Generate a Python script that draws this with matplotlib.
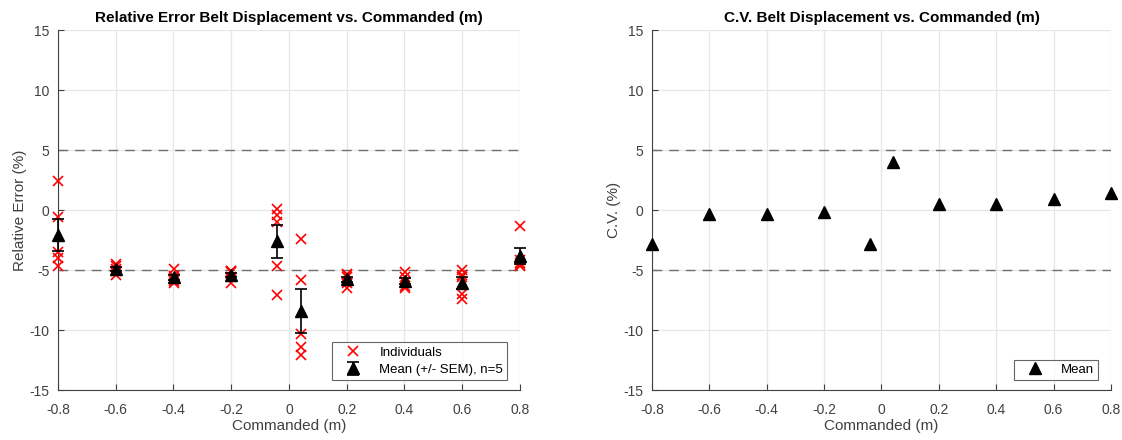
import numpy as np
import matplotlib.pyplot as plt

plt.rcParams['font.family'] = ['Liberation Sans', 'DejaVu Sans']
plt.rcParams['axes.unicode_minus'] = False

# commanded positions (m)
commanded = [-0.8, -0.6, -0.4, -0.2, -0.04, 0.04, 0.2, 0.4, 0.6, 0.8]

# relative error of each individual trial (%), 5 per position
individuals = [
    [2.4, -0.6, -3.5, -4.0, -4.7],
    [-4.5, -4.7, -4.9, -5.1, -5.4],
    [-4.9, -5.5, -5.7, -5.9, -6.1],
    [-5.1, -5.1, -5.2, -5.6, -6.1],
    [0.1, -0.4, -1.0, -4.7, -7.1],
    [-2.4, -5.8, -10.3, -11.4, -12.1],
    [-5.3, -5.4, -5.6, -6.1, -6.5],
    [-5.2, -5.6, -6.0, -6.3, -6.5],
    [-5.0, -5.4, -5.6, -7.0, -7.4],
    [-1.3, -4.2, -4.4, -4.6, -4.7],
]

# coefficient of variation (%)
cv = [-2.8, -0.3, -0.3, -0.2, -2.8, 4.0, 0.5, 0.5, 0.9, 1.4]

ind = np.array(individuals)
mean = ind.mean(axis=1)
sem = ind.std(axis=1, ddof=1) / np.sqrt(ind.shape[1])

fig = plt.figure(figsize=(11.22, 4.4), dpi=100)
ax1 = fig.add_axes([58 / 1122, 50 / 440, 462 / 1122, 360 / 440])
ax2 = fig.add_axes([652 / 1122, 50 / 440, 459 / 1122, 360 / 440])

# left panel
for i, x in enumerate(commanded):
    ax1.plot([x] * len(individuals[i]), individuals[i], 'x', color='#ff0000',
             markersize=7, markeredgewidth=1.2, clip_on=False, zorder=3,
             label='Individuals' if i == 0 else None)
eb = ax1.errorbar(commanded, mean, yerr=sem, fmt='^', color='black', markersize=8,
                  capsize=4, elinewidth=1.2, capthick=1.2, zorder=4,
                  label='Mean (+/- SEM), n=5')
for art in eb.get_children():
    art.set_clip_on(False)
ax1.set_title('Relative Error Belt Displacement vs. Commanded (m)', fontsize=11, fontweight='bold')
ax1.set_ylabel('Relative Error (%)', fontsize=11, color='#404040', labelpad=2)

# right panel
ax2.plot(commanded, cv, '^', color='black', markersize=8, clip_on=False, zorder=4, label='Mean')
ax2.set_title('C.V. Belt Displacement vs. Commanded (m)', fontsize=11, fontweight='bold')
ax2.set_ylabel('C.V. (%)', fontsize=11, color='#404040', labelpad=2)

for ax in (ax1, ax2):
    ax.axhline(5, color='#707070', linestyle=(0, (7, 5)), linewidth=1, zorder=1)
    ax.axhline(-5, color='#707070', linestyle=(0, (7, 5)), linewidth=1, zorder=1)
    ax.set_xlim(-0.8, 0.8)
    ax.set_ylim(-15, 15)
    ax.set_xticks(np.arange(-0.8, 0.81, 0.2))
    ax.set_xticklabels(['-0.8', '-0.6', '-0.4', '-0.2', '0', '0.2', '0.4', '0.6', '0.8'])
    ax.set_yticks(np.arange(-15, 16, 5))
    ax.set_xlabel('Commanded (m)', fontsize=11, color='#404040', labelpad=2)
    ax.grid(True, color='#e6e6e6', linewidth=0.9)
    ax.set_axisbelow(True)
    ax.spines['top'].set_visible(False)
    ax.spines['right'].set_visible(False)
    for s in ('left', 'bottom'):
        ax.spines[s].set_color('#404040')
        ax.spines[s].set_linewidth(0.8)
    ax.tick_params(direction='in', length=4, labelsize=10, colors='#404040')
    ax.tick_params(axis='x', pad=9)
    ax.tick_params(axis='y', pad=6)

for ax in (ax1, ax2):
    leg = ax.legend(loc='lower right', bbox_to_anchor=(1 - 13 / 462, 10 / 360),
                    borderaxespad=0, fontsize=9.5, fancybox=False, edgecolor='#404040',
                    borderpad=0.3, labelspacing=0.4, handletextpad=0.7, handlelength=2.6)
    leg.get_frame().set_linewidth(0.8)

fig.savefig('out.png', dpi=100)
